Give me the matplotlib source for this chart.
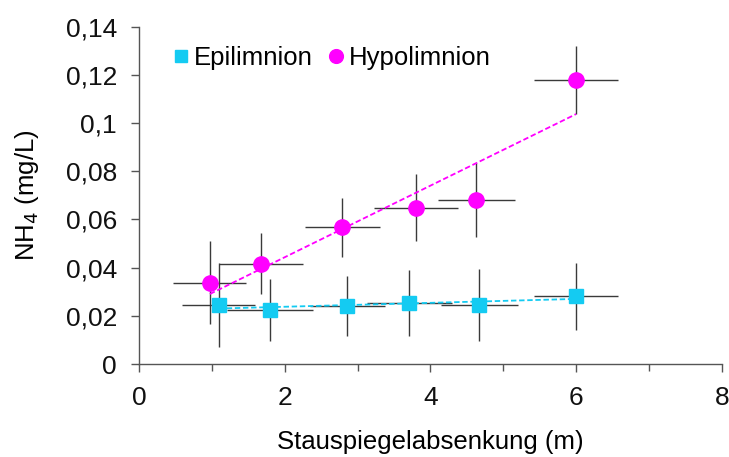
import numpy as np
import matplotlib
matplotlib.use("Agg")
import matplotlib.pyplot as plt
from matplotlib.ticker import FuncFormatter, MultipleLocator

plt.rcParams['font.family'] = ['Liberation Sans', 'DejaVu Sans']

# Hypolimnion: x = drawdown (m), y = NH4 (mg/L), with x/y errors
hypo_x = [0.97, 1.67, 2.79, 3.80, 4.63, 6.00]
hypo_y = [0.0337, 0.0416, 0.0567, 0.0649, 0.0680, 0.1179]
hypo_xerr = [0.50, 0.58, 0.51, 0.58, 0.53, 0.58]
hypo_yerr = [0.0173, 0.0127, 0.0123, 0.0138, 0.0153, 0.0140]

# Epilimnion
epi_x = [1.09, 1.80, 2.86, 3.71, 4.67, 6.00]
epi_y = [0.0245, 0.0224, 0.0242, 0.0254, 0.0245, 0.0282]
epi_xerr = [0.50, 0.59, 0.51, 0.58, 0.53, 0.58]
epi_yerr = [0.0174, 0.0127, 0.0124, 0.0137, 0.0150, 0.0139]

cyan = '#14CBF2'
magenta = '#FF00FF'
errc = '#3a3a3a'

fig = plt.figure(figsize=(7.29, 4.57), dpi=100)
ax = fig.add_axes([0.191, 0.2035, 0.799, 0.738])

# error bars
ax.errorbar(epi_x, epi_y, xerr=epi_xerr, yerr=epi_yerr, fmt='none',
            ecolor=errc, elinewidth=1, capsize=0, zorder=1)
ax.errorbar(hypo_x, hypo_y, xerr=hypo_xerr, yerr=hypo_yerr, fmt='none',
            ecolor=errc, elinewidth=1, capsize=0, zorder=1)

# linear trend lines
for xs, ys, c in [(epi_x, epi_y, cyan), (hypo_x, hypo_y, magenta)]:
    k, d = np.polyfit(xs, ys, 1)
    xx = np.array([min(xs), max(xs)])
    ax.plot(xx, k * xx + d, ls=(0, (3, 1.5)), color=c, lw=1.3, zorder=2)

ax.plot(epi_x, epi_y, 's', color=cyan, ms=10, mec=cyan, zorder=3,
        label='Epilimnion', ls='none')
ax.plot(hypo_x, hypo_y, 'o', color=magenta, ms=11, mec=magenta, zorder=3,
        label='Hypolimnion', ls='none')

ax.set_xlim(0, 8)
ax.set_ylim(0, 0.14)
ax.xaxis.set_major_locator(MultipleLocator(2))
ax.xaxis.set_minor_locator(MultipleLocator(1))
ax.yaxis.set_major_locator(MultipleLocator(0.02))
ax.yaxis.set_major_formatter(FuncFormatter(
    lambda v, p: ('%g' % round(v, 4)).replace('.', ',')))

for s in ['top', 'right']:
    ax.spines[s].set_visible(False)
for s in ['left', 'bottom']:
    ax.spines[s].set_color('#555555')
    ax.spines[s].set_linewidth(1)
ax.tick_params(which='both', direction='out', color='#555555', width=1,
               labelsize=19, labelcolor='#111111')
ax.tick_params(which='major', length=6, pad=6)
ax.tick_params(which='minor', length=5)
ax.tick_params(axis='y', pad=10)
ax.tick_params(axis='x', pad=10)

ax.set_xlabel('Stauspiegelabsenkung (m)', fontsize=18.5, labelpad=14)
ax.set_ylabel('NH$_4$ (mg/L)', fontsize=18.5, labelpad=18)

ax.legend(loc='upper left', bbox_to_anchor=(0.012, 1.01), ncol=2, frameon=False,
          fontsize=18.5, handletextpad=0.05, columnspacing=0.45, handlelength=0.9,
          markerscale=0.9)

fig.savefig('out.png', dpi=100)
